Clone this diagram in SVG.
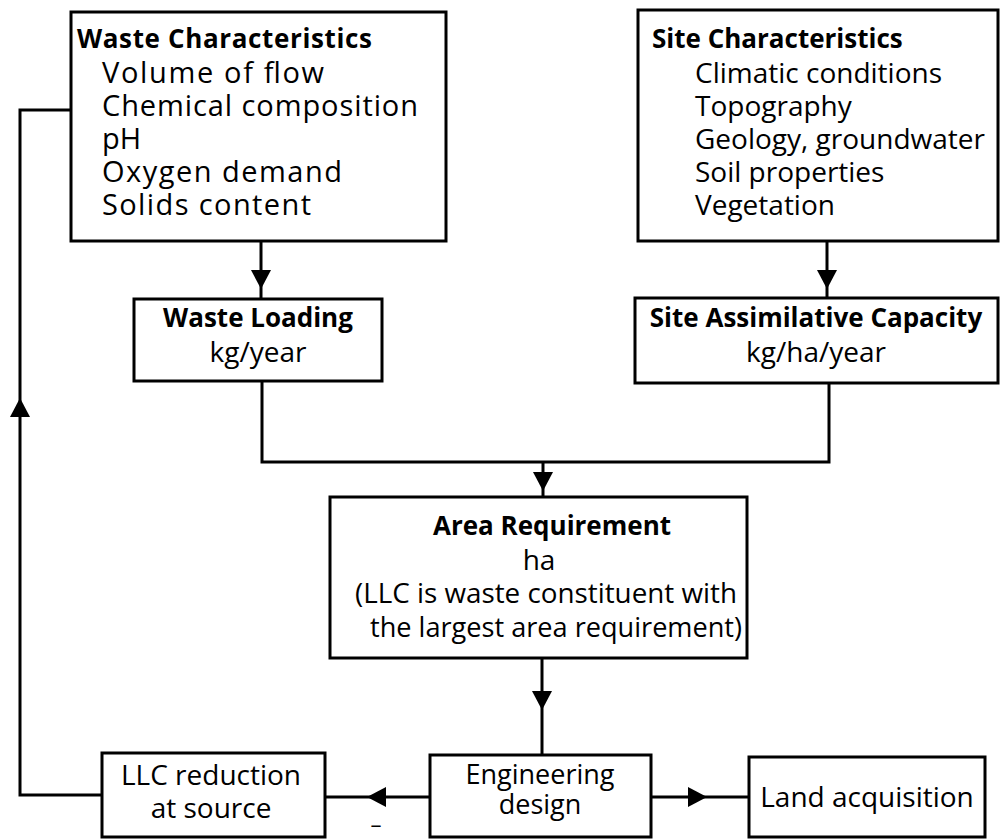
<svg xmlns="http://www.w3.org/2000/svg" width="1002" height="839" viewBox="0 0 1002 839">
<style>
.box{fill:#fff;stroke:#000;stroke-width:3}
.ln{fill:none;stroke:#000;stroke-width:3}
text{font-family:"Open Sans","Noto Sans",sans-serif;font-size:28px;fill:#000}
.b{font-weight:bold;font-size:26px}
.c{text-anchor:middle}
.s{font-size:27px}
.w{font-size:29px}
.m{font-size:22px}
</style>
<defs>
<path id="ad" d="M-10,-19 L10,-19 L0,0 Z" fill="#000"/>
<path id="al" d="M0,0 L19,-10 L19,10 Z" fill="#000"/>
<path id="ar" d="M0,0 L-19,-10 L-19,10 Z" fill="#000"/>
<path id="au" d="M-10,19 L10,19 L0,0 Z" fill="#000"/>
</defs>
<rect width="1002" height="839" fill="#fff"/>
<g id="connectors">
<line class="ln" x1="261" y1="240" x2="261" y2="299"/>
<use href="#ad" x="261" y="289"/>
<line class="ln" x1="827" y1="241" x2="827" y2="298"/>
<use href="#ad" x="827" y="289"/>
<polyline class="ln" points="262,381 262,462 829,462 829,383"/>
<line class="ln" x1="543" y1="462" x2="543" y2="497"/>
<use href="#ad" x="543" y="491"/>
<line class="ln" x1="542" y1="658" x2="542" y2="755"/>
<use href="#ad" x="542" y="710"/>
<line class="ln" x1="430" y1="797" x2="325" y2="797"/>
<use href="#al" x="367" y="797"/>
<line class="ln" x1="651" y1="797" x2="749" y2="797"/>
<use href="#ar" x="707" y="797"/>
<polyline class="ln" points="102,795 20,795 20,110 71,110"/>
<use href="#au" x="20" y="398"/>
<text x="376" y="832" class="c m">–</text>
</g>
<g id="waste-characteristics">
<rect class="box" x="71" y="12" width="375" height="229"/>
<text x="77" y="48" class="b" textLength="295" lengthAdjust="spacing">Waste Characteristics</text>
<text x="102" y="83" class="w" textLength="222" lengthAdjust="spacing">Volume of flow</text>
<text x="102" y="116" class="w" textLength="316" lengthAdjust="spacing">Chemical composition</text>
<text x="102" y="149" class="w">pH</text>
<text x="102" y="182" class="w" textLength="240" lengthAdjust="spacing">Oxygen demand</text>
<text x="102" y="215" class="w" textLength="209" lengthAdjust="spacing">Solids content</text>
</g>
<g id="site-characteristics">
<rect class="box" x="638" y="10" width="360" height="231"/>
<text x="652" y="48" class="b">Site Characteristics</text>
<text x="695" y="83">Climatic conditions</text>
<text x="695" y="116">Topography</text>
<text x="695" y="149">Geology, groundwater</text>
<text x="695" y="182">Soil properties</text>
<text x="695" y="215">Vegetation</text>
</g>
<g id="waste-loading">
<rect class="box" x="134" y="299" width="248" height="82"/>
<text x="258" y="327" class="b c">Waste Loading</text>
<text x="258" y="362" class="c">kg/year</text>
</g>
<g id="site-assimilative-capacity">
<rect class="box" x="635" y="298" width="363" height="85"/>
<text x="816" y="327" class="b c">Site Assimilative Capacity</text>
<text x="816" y="362" class="c">kg/ha/year</text>
</g>
<g id="area-requirement">
<rect class="box" x="330" y="497" width="417" height="161"/>
<text x="552" y="535" class="b c">Area Requirement</text>
<text x="539" y="570" class="c">ha</text>
<text x="546" y="603" class="c" textLength="382" lengthAdjust="spacingAndGlyphs">(LLC is waste constituent with</text>
<text x="556" y="637" class="c" textLength="372" lengthAdjust="spacingAndGlyphs">the largest area requirement)</text>
</g>
<g id="engineering-design">
<rect class="box" x="430" y="755" width="221" height="82"/>
<text x="540" y="784" class="c s">Engineering</text>
<text x="540" y="814" class="c s">design</text>
</g>
<g id="llc-reduction">
<rect class="box" x="102" y="753" width="223" height="84"/>
<text x="211" y="785" class="c">LLC reduction</text>
<text x="211" y="818" class="c">at source</text>
</g>
<g id="land-acquisition">
<rect class="box" x="749" y="757" width="236" height="80"/>
<text x="867" y="807" class="c">Land acquisition</text>
</g>
</svg>
